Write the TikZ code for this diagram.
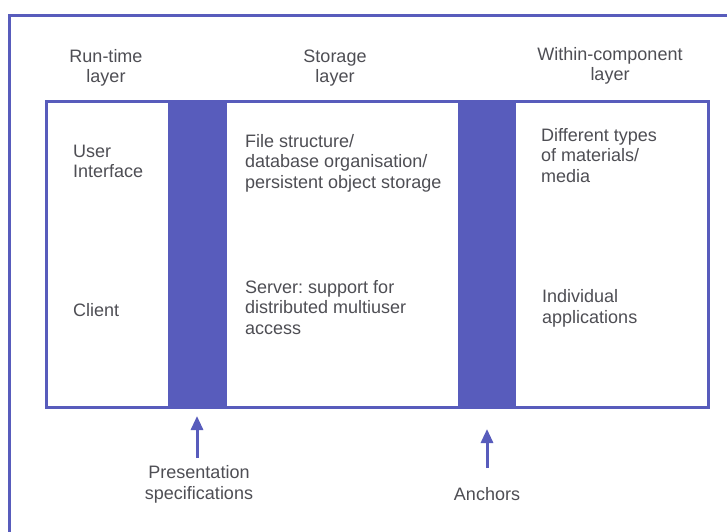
\documentclass[tikz,border=0pt]{standalone}
\usepackage{fontspec}
\setmainfont{Liberation Sans}
\usetikzlibrary{arrows.meta}
\definecolor{layerblue}{RGB}{88,92,188}
\definecolor{labelgray}{RGB}{78,78,84}
\frenchspacing
\tikzset{
  lbl/.style={inner sep=0pt, text=labelgray, font=\fontsize{18}{20.5}\selectfont},
  lblleft/.style={lbl, align=left, anchor=base west},
  lblmid/.style={lbl, align=center, anchor=base},
  frameline/.style={draw=layerblue, line width=3pt},
  bar/.style={fill=layerblue, draw=none},
  uparrow/.style={draw=layerblue, line width=3pt, -{Triangle[length=14pt,width=12pt]}}
}
\begin{document}
\begin{tikzpicture}[x=1pt, y=-1pt]
  \useasboundingbox (0,0) rectangle (727,531);
  \fill[white] (0,0) rectangle (727,531);

  % outer frame (left and top edges)
  \draw[frameline, line cap=rect] (9,531) -- (9,15) -- (727,15);

  % dark separator bars between the layers
  \fill[bar] (168,100) rectangle (227,406);
  \fill[bar] (458,100) rectangle (516,406);

  % inner box holding the three layers
  \node[frameline, rectangle, minimum width=662pt, minimum height=306pt,
        inner sep=0pt, anchor=north west] (box) at (45,100) {};

  % layer headings (positioned at the baseline of their last line)
  \node[lblmid] (hrun) at (106,82.5) {Run-time\\layer};
  \node[lblmid] (hsto) at (335,82.5) {Storage\\layer};
  \node[lblmid] (hwit) at (610,80.5) {Within-component\\layer};

  % run-time layer
  \node[lblleft] (ui) at (73,177.5) {User\\Interface};
  \node[lblleft] (client) at (73,316) {Client};

  % storage layer
  \node[lblleft] (file) at (245,188) {File structure/\\database organisation/\\persistent object storage};
  \node[lblleft] (server) at (245,334) {Server: support for\\distributed multiuser\\access};

  % within-component layer
  \node[lblleft] (media) at (541,182) {Different types\\of materials/\\media};
  \node[lblleft] (apps) at (542,323) {Individual\\applications};

  % arrows pointing to the separator bars
  \coordinate (ptip) at (197,416);
  \coordinate (ptail) at (197,458);
  \coordinate (atip) at (487,429);
  \coordinate (atail) at (487,468);
  \draw[uparrow] (ptail) -- (ptip);
  \draw[uparrow] (atail) -- (atip);

  \node[lblmid] (pres) at (199,499) {Presentation\\specifications};
  \node[lblmid] (anch) at (487,500) {Anchors};
\end{tikzpicture}
\end{document}
